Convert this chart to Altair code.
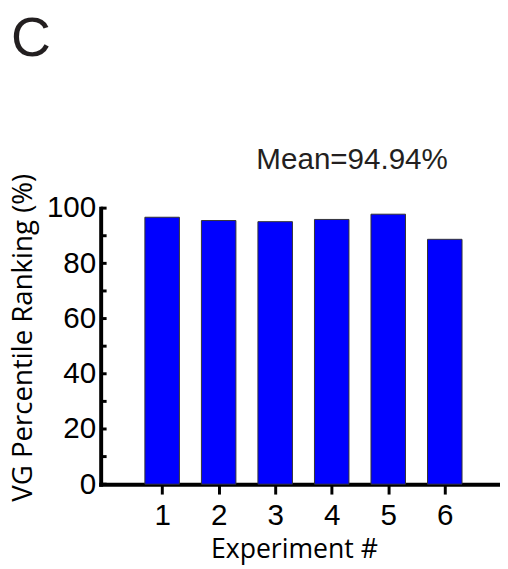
import altair as alt
import pandas as pd

experiments = [1, 2, 3, 4, 5, 6]
rankings = [96.7, 95.5, 95.1, 95.9, 97.8, 88.7]
y_tick_values = [0, 10, 20, 30, 40, 50, 60, 70, 80, 90, 100]
y_label_values = [0, 20, 40, 60, 80, 100]
panel_label = ["C"]
mean_text = ["Mean=94.94%"]

bars_df = pd.DataFrame({"experiment": experiments, "ranking": rankings})
ticks_df = pd.DataFrame({"tick": y_tick_values})
panel_df = pd.DataFrame({"label": panel_label})
mean_df = pd.DataFrame({"label": mean_text})

x_scale = alt.Scale(domain=[0, 6.89], nice=False, zero=False)
y_scale = alt.Scale(domain=[0, 100], nice=False)

bars = alt.Chart(bars_df).mark_bar(
    size=35, color="#0000ff", stroke="#333333", strokeWidth=1
).encode(
    x=alt.X("experiment:Q", scale=x_scale, axis=alt.Axis(
        values=experiments, title="Experiment #", format="d",
        domainWidth=4, domainColor="black", domainCap="square",
        tickSize=10, tickWidth=3, tickColor="black",
        labelFont="Arial", labelFontSize=30, labelColor="black",
        labelPadding=7, grid=False,
        titleFont="Open Sans", titleFontSize=27, titleFontWeight="normal",
        titleColor="black", titleX=196, titleY=74, titleBaseline="alphabetic",
        titleAnchor="middle", titleAlign="center",
    )),
    y=alt.Y("ranking:Q", scale=y_scale, axis=alt.Axis(
        values=y_label_values, title="VG Percentile Ranking (%)",
        domainWidth=4, domainColor="black", domainCap="square",
        tickSize=0, grid=False,
        labelFont="Arial", labelFontSize=30, labelColor="black",
        labelPadding=5,
        titleFont="Open Sans", titleFontSize=28, titleFontWeight="normal",
        titleColor="black", titleAngle=-90, titleX=-78, titleY=131,
        titleBaseline="middle", titleAlign="center",
    )),
)

yticks = alt.Chart(ticks_df).mark_rule(color="black", strokeWidth=3).encode(
    y=alt.Y("tick:Q", scale=y_scale),
    x=alt.value(0),
    x2=alt.value(6),
)

panel = alt.Chart(panel_df).mark_text(
    font="Arial", fontSize=56, color="#231f20",
    align="left", baseline="alphabetic",
).encode(
    text="label:N",
    x=alt.value(-91),
    y=alt.value(-154),
)

mean_label = alt.Chart(mean_df).mark_text(
    font="Arial", fontSize=30, color="#231f20",
    align="center", baseline="alphabetic",
).encode(
    text="label:N",
    x=alt.value(255),
    y=alt.value(-40),
)

chart = alt.layer(bars, yticks, panel, mean_label).properties(
    width=405,
    height=280,
    autosize=alt.AutoSizeParams(type="none"),
    padding={"left": 94, "top": 199, "right": 0, "bottom": 80},
).configure_view(stroke=None)

chart.save("out.html", embed_options={"renderer": "svg", "actions": False})
